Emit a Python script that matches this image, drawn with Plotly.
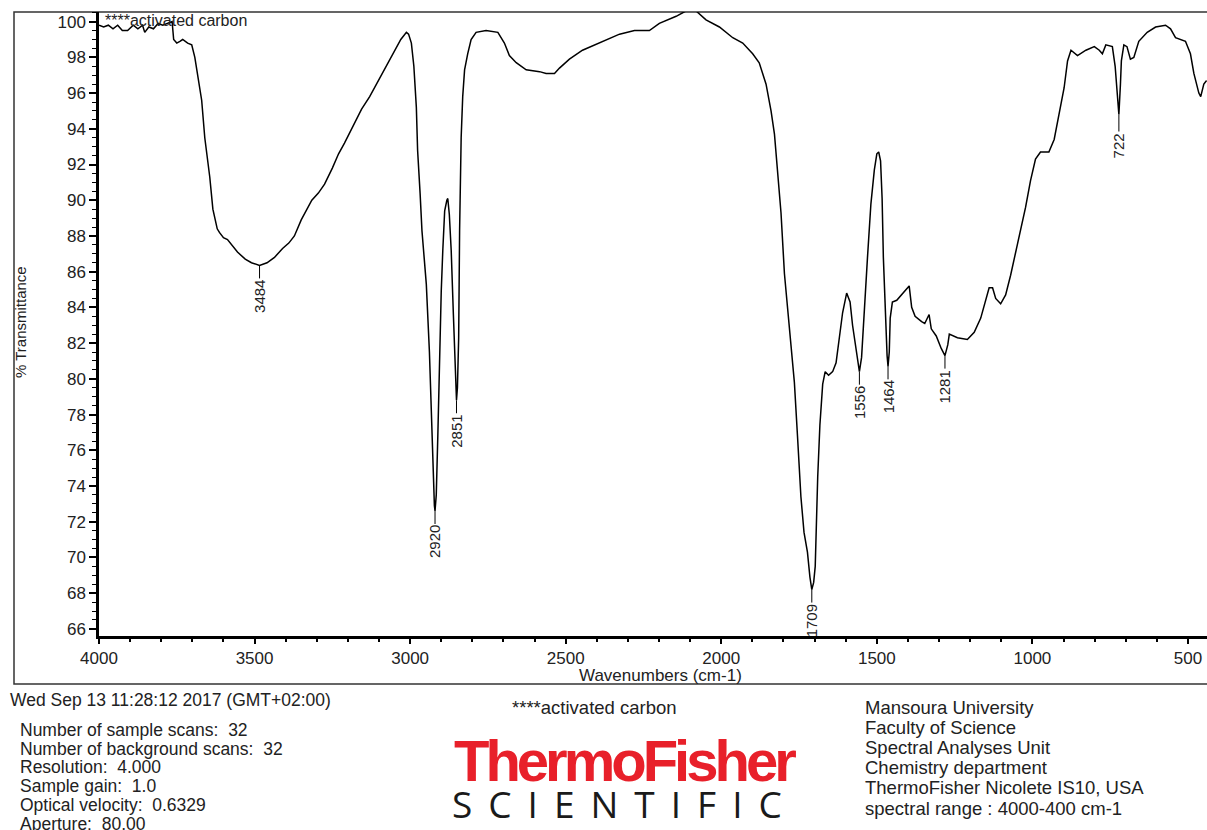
import plotly.graph_objects as go
import numpy as np

# ---- spectrum data ----
wavenumber = [4000, 3985, 3970, 3955, 3940, 3925, 3908, 3890, 3875, 3860, 3853, 3840, 3825, 3810, 3795, 3780, 3765,
              3760, 3750, 3740, 3731, 3715, 3702, 3692, 3680, 3670, 3660, 3644, 3634, 3620, 3613, 3600, 3587, 3570,
              3555, 3530, 3510, 3484, 3460, 3436, 3410, 3390, 3372, 3350, 3330, 3316, 3295, 3275, 3250, 3230, 3211,
              3185, 3156, 3130, 3105, 3080, 3050, 3030, 3012, 3005, 2996, 2988, 2980, 2976, 2968, 2962, 2955, 2948,
              2938, 2932, 2927, 2922, 2920, 2916, 2911, 2906, 2900, 2895, 2889, 2882, 2879, 2874, 2868, 2861, 2854,
              2851, 2848, 2844, 2841, 2838, 2836, 2831, 2825, 2815, 2804, 2788, 2756, 2718, 2697, 2681, 2659, 2627,
              2584, 2563, 2536, 2520, 2488, 2446, 2381, 2327, 2279, 2231, 2199, 2145, 2113, 2081, 2049, 2006, 1963,
              1931, 1899, 1878, 1856, 1840, 1829, 1819, 1808, 1797, 1787, 1776, 1765, 1755, 1744, 1734, 1723, 1715,
              1709, 1703, 1698, 1690, 1683, 1674, 1666, 1655, 1642, 1631, 1621, 1610, 1597, 1586, 1578, 1567, 1556,
              1549, 1541, 1530, 1519, 1508, 1500, 1494, 1488, 1483, 1479, 1473, 1467, 1464, 1460, 1457, 1450, 1436,
              1420, 1404, 1396, 1388, 1377, 1356, 1346, 1332, 1325, 1309, 1293, 1281, 1272, 1267, 1241, 1209, 1187,
              1166, 1153, 1139, 1128, 1118, 1102, 1086, 1070, 1054, 1038, 1022, 1006, 990, 974, 947, 930, 919, 908,
              898, 887, 876, 855, 828, 801, 785, 775, 764, 743, 734, 727, 722, 717, 714, 706, 696, 685, 674, 658,
              631, 604, 572, 556, 540, 508, 492, 481, 465, 459, 449, 440]
transmittance = [99.8, 99.7, 99.8, 99.6, 99.8, 99.5, 99.5, 99.8, 99.6, 99.8, 99.4, 99.7, 99.6, 99.9, 99.8, 99.9, 100.0,
                 99.0, 98.8, 98.9, 99.0, 98.8, 98.7, 98.0, 96.8, 95.6, 93.5, 91.3, 89.5, 88.4, 88.2, 87.9, 87.8, 87.4,
                 87.1, 86.7, 86.5, 86.35, 86.5, 86.8, 87.3, 87.6, 88.0, 88.9, 89.6, 90.0, 90.4, 90.9, 91.8, 92.6, 93.2,
                 94.1, 95.1, 95.8, 96.6, 97.4, 98.4, 99.0, 99.4, 99.3, 98.8, 97.5, 95.2, 92.8, 90.4, 88.3, 86.8, 85.3,
                 81.5, 77.8, 74.6, 72.9, 72.6, 73.5, 76.8, 81.4, 84.9, 87.2, 89.4, 90.0, 90.1, 89.2, 87.2, 83.6, 80.0,
                 78.8, 79.5, 82.3, 88.3, 92.8, 93.5, 95.8, 97.3, 98.2, 99.0, 99.4, 99.5, 99.4, 98.8, 98.1, 97.7, 97.3,
                 97.2, 97.1, 97.1, 97.4, 97.9, 98.4, 98.9, 99.3, 99.5, 99.5, 99.9, 100.3, 100.6, 100.6, 100.1, 99.7, 99.1,
                 98.8, 98.2, 97.7, 96.5, 95.0, 93.7, 91.8, 89.3, 85.9, 84.0, 82.1, 79.8, 76.8, 73.4, 71.4, 70.3, 68.9,
                 68.2, 68.6, 69.5, 74.5, 77.4, 79.7, 80.4, 80.2, 80.4, 80.9, 82.1, 83.7, 84.8, 84.3, 83.0, 81.6, 80.4,
                 81.2, 83.3, 86.8, 89.8, 91.7, 92.6, 92.7, 92.2, 90.1, 86.8, 83.6, 81.3, 80.7, 81.5, 83.4, 84.3, 84.4,
                 84.7, 85.0, 85.2, 84.0, 83.5, 83.2, 83.1, 83.6, 82.8, 82.4, 81.7, 81.3, 81.9, 82.5, 82.3, 82.2, 82.6,
                 83.4, 84.3, 85.1, 85.1, 84.5, 84.2, 84.7, 85.8, 87.1, 88.3, 89.6, 91.1, 92.3, 92.7, 92.7, 93.4, 94.5, 95.4,
                 96.3, 97.8, 98.4, 98.1, 98.4, 98.6, 98.4, 98.2, 98.7, 98.6, 97.5, 96.0, 94.8, 96.5, 97.8, 98.7, 98.6, 97.9, 98.0, 98.9,
                 99.4, 99.7, 99.8, 99.6, 99.1, 98.9, 98.2, 97.1, 96.0, 95.8, 96.5, 96.7]

peak_labels = [3484, 2920, 2851, 1709, 1556, 1464, 1281, 722]

y_ticks = list(range(66, 101, 2))
x_ticks = [4000, 3500, 3000, 2500, 2000, 1500, 1000, 500]

sample_name = "****activated carbon"
date_line = "Wed Sep 13 11:28:12 2017 (GMT+02:00)"
info_lines = ["Number of sample scans:  32", "Number of background scans:  32", "Resolution:  4.000",
              "Sample gain:  1.0", "Optical velocity:  0.6329", "Aperture:  80.00"]
lab_lines = ["Mansoura University", "Faculty of Science", "Spectral Analyses Unit", "Chemistry department",
             "ThermoFisher Nicolete IS10, USA", "spectral range : 4000-400 cm-1"]

FONT = "Liberation Sans, Arial, sans-serif"
W, H = 1207, 830
ML, MR, MT, MB = 99, 0, 12, 194
PW, PH = W - ML - MR, H - MT - MB


def xp(px):
    return (px - ML) / PW


def yp(py):
    return (H - MB - py) / PH


fig = go.Figure()
fig.add_trace(go.Scatter(x=wavenumber, y=transmittance, mode="lines",
                         line=dict(color="black", width=1.5), hoverinfo="skip", showlegend=False))

annotations = []
wn_asc = wavenumber[::-1]
t_asc = transmittance[::-1]
for p in peak_labels:
    tv = float(np.interp(p, wn_asc, t_asc))
    annotations.append(dict(x=p, y=tv, xref="x", yref="y", text=str(p), textangle=-90,
                            showarrow=True, arrowhead=0, arrowwidth=1, arrowcolor="black",
                            ax=0, ay=31, standoff=0,
                            font=dict(family=FONT, size=15, color="#222")))

# top-left sample name
annotations.append(dict(x=xp(103), y=yp(21), xref="paper", yref="paper", text=sample_name, showarrow=False,
                        xanchor="left", yanchor="middle", font=dict(family=FONT, size=16, color="#222")))
# axis titles
annotations.append(dict(x=xp(660), y=yp(675), xref="paper", yref="paper", text="Wavenumbers (cm-1)",
                        showarrow=False, xanchor="center", yanchor="middle",
                        font=dict(family=FONT, size=17, color="#222")))
annotations.append(dict(x=xp(20), y=yp(322), xref="paper", yref="paper", text="% Transmittance", textangle=-90,
                        showarrow=False, xanchor="center", yanchor="middle",
                        font=dict(family=FONT, size=15, color="#222")))
# footer
annotations.append(dict(x=xp(8), y=yp(700), xref="paper", yref="paper", text=date_line, showarrow=False,
                        xanchor="left", yanchor="middle", font=dict(family=FONT, size=17.5, color="#222")))
for i, s in enumerate(info_lines):
    annotations.append(dict(x=xp(18), y=yp(730 + 18.7 * i), xref="paper", yref="paper", text=s, showarrow=False,
                            xanchor="left", yanchor="middle", font=dict(family=FONT, size=17.5, color="#222")))
for i, s in enumerate(lab_lines):
    annotations.append(dict(x=xp(863), y=yp(707 + 20.2 * i), xref="paper", yref="paper", text=s, showarrow=False,
                            xanchor="left", yanchor="middle", font=dict(family=FONT, size=18.5, color="#222")))
annotations.append(dict(x=xp(510), y=yp(707), xref="paper", yref="paper", text=sample_name, showarrow=False,
                        xanchor="left", yanchor="middle", font=dict(family=FONT, size=18.5, color="#222")))
annotations.append(dict(x=xp(452), y=yp(760), xref="paper", yref="paper",
                        text='<span style="letter-spacing:-4px"><b>ThermoFisher</b></span>', showarrow=False,
                        xanchor="left", yanchor="middle",
                        font=dict(family=FONT, size=58, color="#E8202A")))
annotations.append(dict(x=xp(450), y=yp(803), xref="paper", yref="paper",
                        text='<span style="letter-spacing:16px">SCIENTIFIC</span>', showarrow=False,
                        xanchor="left", yanchor="middle",
                        font=dict(family="Open Sans, Lato, sans-serif", size=37, color="#1a1a1a")))

shapes = [dict(type="rect", xref="paper", yref="paper", x0=xp(14), x1=1.05, y0=yp(684), y1=1.0,
               line=dict(color="#333", width=1.5), layer="below")]

fig.update_layout(
    width=W, height=H, margin=dict(l=ML, r=MR, t=MT, b=MB),
    paper_bgcolor="white", plot_bgcolor="white", showlegend=False,
    annotations=annotations, shapes=shapes,
    xaxis=dict(range=[4000, 4000 - PW / 0.31113], tickvals=x_ticks, ticks="outside", ticklen=5, tickwidth=1.5,
               tickcolor="black", showline=True, linecolor="black", linewidth=2.5, showgrid=False, zeroline=False,
               mirror=False, tickfont=dict(family=FONT, size=17, color="#222"),
               minor=dict(dtick=100, ticks="outside", ticklen=3, tickwidth=1.5, tickcolor="black", showgrid=False)),
    yaxis=dict(range=[65.6, 100.54], tickvals=y_ticks, ticks="outside", ticklen=7, tickwidth=1.5,
               tickcolor="black", showline=True, linecolor="black", linewidth=2.5, showgrid=False, zeroline=False,
               mirror=False, tickfont=dict(family=FONT, size=17, color="#222"),
               minor=dict(dtick=0.5, ticks="outside", ticklen=4, tickwidth=1, tickcolor="black", showgrid=False)),
)

fig.write_html("out.html", config={"displayModeBar": False})
